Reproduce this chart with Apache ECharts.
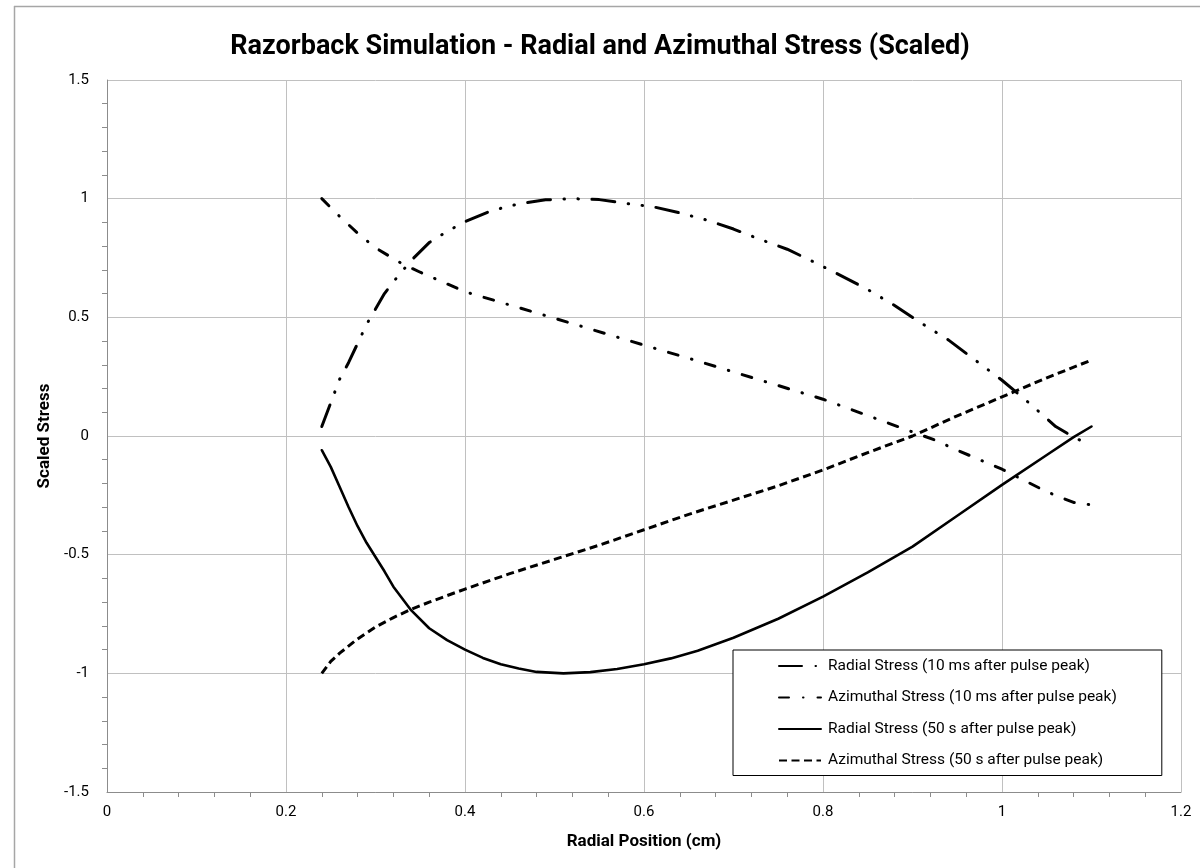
<!DOCTYPE html>
<html>
<head>
<meta charset="utf-8">
<script src="https://cdn.jsdelivr.net/npm/echarts@6/dist/echarts.min.js"></script>
<style>
html,body{margin:0;padding:0;background:#fff;}
#chart{width:1200px;height:868px;}
</style>
</head>
<body>
<div id="chart"></div>
<script>
// ---- data ----
const titleText = 'Razorback Simulation - Radial and Azimuthal Stress (Scaled)';
const xAxisName = 'Radial Position (cm)';
const yAxisName = 'Scaled Stress';
const seriesNames = [
  'Radial Stress (10 ms after pulse peak)',
  'Azimuthal Stress (10 ms after pulse peak)',
  'Radial Stress (50 s after pulse peak)',
  'Azimuthal Stress (50 s after pulse peak)'
];

const radial10X = [0.24,0.25,0.26,0.27,0.28,0.29,0.30,0.31,0.32,0.34,0.36,0.38,0.40,0.43,0.46,0.49,0.52,0.55,0.58,0.61,0.64,0.67,0.70,0.73,0.76,0.79,0.82,0.85,0.88,0.91,0.94,0.97,1.00,1.03,1.06,1.08,1.10];
const radial10Y = [0.04,0.14,0.24,0.31,0.39,0.47,0.535,0.60,0.65,0.74,0.815,0.862,0.903,0.95,0.978,0.995,1.0,0.996,0.98,0.966,0.94,0.91,0.872,0.828,0.787,0.733,0.676,0.617,0.55,0.475,0.405,0.32,0.235,0.14,0.04,-0.005,-0.04];

const azim10X = [0.24,0.26,0.28,0.30,0.33,0.35,0.40,0.50,0.60,0.66,0.70,0.80,0.90,0.925,0.95,1.00,1.05,1.08,1.10];
const azim10Y = [1.0,0.925,0.855,0.793,0.725,0.69,0.608,0.496,0.383,0.316,0.27,0.155,0.017,-0.017,-0.06,-0.14,-0.235,-0.28,-0.29];

const radial50X = [0.24,0.25,0.26,0.27,0.28,0.29,0.30,0.31,0.32,0.34,0.36,0.38,0.40,0.42,0.44,0.46,0.48,0.51,0.54,0.57,0.60,0.63,0.66,0.70,0.75,0.80,0.85,0.90,0.95,1.00,1.05,1.08,1.10];
const radial50Y = [-0.06,-0.13,-0.215,-0.30,-0.38,-0.45,-0.51,-0.57,-0.635,-0.735,-0.81,-0.86,-0.90,-0.935,-0.962,-0.98,-0.994,-1.0,-0.995,-0.982,-0.962,-0.937,-0.905,-0.85,-0.77,-0.677,-0.575,-0.466,-0.336,-0.206,-0.08,-0.005,0.04];

const azim50X = [0.24,0.25,0.26,0.28,0.30,0.32,0.34,0.36,0.40,0.45,0.50,0.55,0.60,0.65,0.70,0.75,0.80,0.85,0.90,0.95,1.00,1.05,1.10];
const azim50Y = [-1.0,-0.95,-0.915,-0.855,-0.805,-0.765,-0.73,-0.70,-0.645,-0.58,-0.52,-0.46,-0.395,-0.33,-0.27,-0.21,-0.143,-0.07,0.0,0.085,0.165,0.245,0.32];

const xTicks = [0,0.2,0.4,0.6,0.8,1,1.2];
const yTicks = [-1.5,-1,-0.5,0,0.5,1,1.5];

// ---- build ----
const pairs = (xs, ys) => xs.map((x, i) => [x, ys[i]]);
const FONT = 'Roboto, "Liberation Sans", sans-serif';

const styles = [
  {type: [23, 13.5, 0.5, 13.5, 0.5, 13.5], width: 3, cap: 'round'},
  {type: [10, 14, 0.5, 14], width: 3, cap: 'round'},
  {type: 'solid', width: 2.6, cap: 'round'},
  {type: [8, 4.5], width: 3, cap: 'butt'}
];
const dataSets = [pairs(radial10X, radial10Y), pairs(azim10X, azim10Y), pairs(radial50X, radial50Y), pairs(azim50X, azim50Y)];

const chart = echarts.init(document.getElementById('chart'), null, {renderer: 'canvas'});
chart.setOption({
  backgroundColor: '#fff',
  animation: false,
  title: {
    text: titleText, left: 'center', top: 29,
    textStyle: {fontFamily: FONT, fontWeight: 'bold', fontSize: 27, color: '#000'}
  },
  grid: {left: 107, right: 19, top: 80, bottom: 76, containLabel: false},
  xAxis: {
    type: 'value', min: 0, max: 1.2, interval: 0.2,
    name: xAxisName, nameLocation: 'middle', nameGap: 41,
    nameTextStyle: {fontFamily: FONT, fontWeight: 'bold', fontSize: 17, color: '#000'},
    axisLine: {show: true, onZero: false, lineStyle: {color: '#8c8c8c', width: 1}},
    axisTick: {show: false},
    minorTick: {show: true, splitNumber: 5, length: 5, lineStyle: {color: '#8c8c8c'}},
    axisLabel: {
      fontFamily: FONT, fontSize: 15, color: '#000', margin: 13,
      formatter: v => { const t = xTicks.find(k => Math.abs(k - v) < 1e-9); return t === undefined ? '' : String(t); }
    },
    splitLine: {show: true, lineStyle: {color: '#c0c0c0', width: 1}}
  },
  yAxis: {
    type: 'value', min: -1.5, max: 1.5, interval: 0.5,
    name: yAxisName, nameLocation: 'middle', nameGap: 49, nameRotate: 90,
    nameTextStyle: {fontFamily: FONT, fontWeight: 'bold', fontSize: 17, color: '#000'},
    axisLine: {show: true, onZero: false, lineStyle: {color: '#8c8c8c', width: 1}},
    axisTick: {show: false},
    minorTick: {show: true, splitNumber: 5, length: 5, lineStyle: {color: '#8c8c8c'}},
    axisLabel: {
      fontFamily: FONT, fontSize: 15, color: '#000', margin: 18,
      formatter: v => { const t = yTicks.find(k => Math.abs(k - v) < 1e-9); return t === undefined ? '' : String(t); }
    },
    splitLine: {show: true, lineStyle: {color: '#c0c0c0', width: 1}}
  },
  legend: {
    orient: 'vertical', left: 733, top: 650,
    padding: [8, 45, 7, 45],
    itemWidth: 42, itemHeight: 14, itemGap: 15.5,
    backgroundColor: '#fff', borderColor: '#000', borderWidth: 1,
    itemStyle: {opacity: 0, borderWidth: 0},
    textStyle: {fontFamily: FONT, fontSize: 15.5, color: '#000', padding: [0, 0, 0, 2]},
    data: seriesNames, z: 6
  },
  graphic: [
    {type: 'line', shape: {x1: 14.5, y1: 6, x2: 14.5, y2: 868}, style: {stroke: '#a6a6a6', lineWidth: 1.5}, silent: true},
    {type: 'line', shape: {x1: 14, y1: 6.5, x2: 1200, y2: 6.5}, style: {stroke: '#a6a6a6', lineWidth: 1.5}, silent: true}
  ],
  series: seriesNames.map((name, i) => ({
    name, type: 'line', data: dataSets[i], smooth: false, symbol: 'none', showSymbol: false,
    lineStyle: {color: '#000', width: styles[i].width, type: styles[i].type, cap: styles[i].cap, join: 'round'},
    itemStyle: {color: '#000'},
    z: 2, clip: true
  }))
});
</script>
</body>
</html>
